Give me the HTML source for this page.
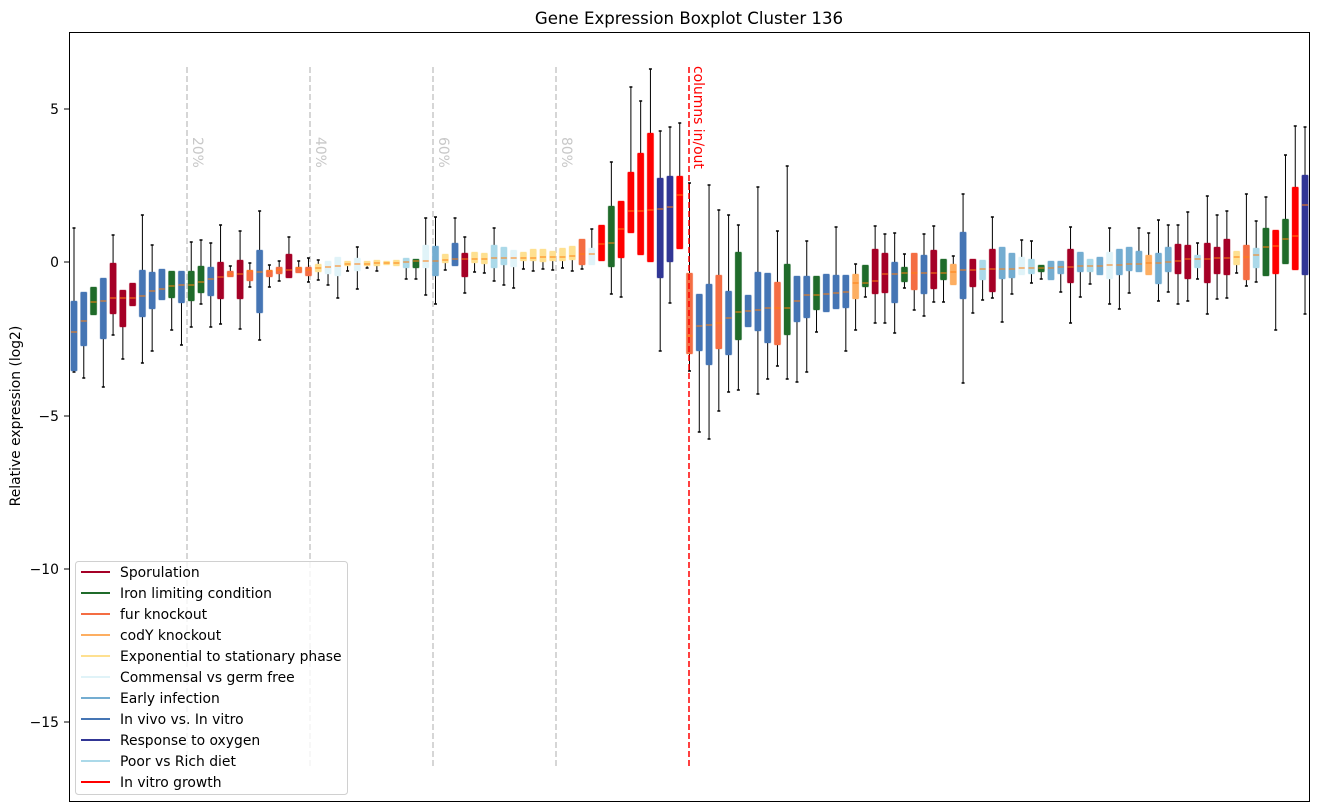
<!DOCTYPE html>
<html><head><meta charset="utf-8"><style>
html,body{margin:0;padding:0;background:#fff;}
svg{display:block;font-family:"DejaVu Sans","Liberation Sans",sans-serif;}
</style></head><body>
<svg id="s" width="1318" height="812" viewBox="0 0 1318 812" xmlns="http://www.w3.org/2000/svg">
<rect x="0" y="0" width="1318" height="812" fill="#fff"/>
<text x="689" y="24" font-size="16.6" text-anchor="middle">Gene Expression Boxplot Cluster 136</text>
<text transform="translate(20,416) rotate(-90)" font-size="13.9" text-anchor="middle">Relative expression (log2)</text>
<g font-size="13.9" text-anchor="end">
<line x1="64" y1="109" x2="69" y2="109" stroke="#000"/><text x="59" y="114">5</text>
<line x1="64" y1="262" x2="69" y2="262" stroke="#000"/><text x="59" y="267">0</text>
<line x1="64" y1="416" x2="69" y2="416" stroke="#000"/><text x="59" y="421">−5</text>
<line x1="64" y1="569" x2="69" y2="569" stroke="#000"/><text x="59" y="574">−10</text>
<line x1="64" y1="722" x2="69" y2="722" stroke="#000"/><text x="59" y="727">−15</text>
</g>
<g stroke="#c8c8c8" stroke-width="1.5" stroke-dasharray="6,3">
<line x1="187" y1="67" x2="187" y2="767"/><line x1="310" y1="67" x2="310" y2="767"/>
<line x1="433" y1="67" x2="433" y2="767"/><line x1="556" y1="67" x2="556" y2="767"/>
</g>
<g fill="#c8c8c8" font-size="13.9">
<text transform="translate(193,137) rotate(90)">20%</text>
<text transform="translate(316,137) rotate(90)">40%</text>
<text transform="translate(439,137) rotate(90)">60%</text>
<text transform="translate(562,137) rotate(90)">80%</text>
</g>
<g id="boxes"></g>
<line x1="689" y1="67" x2="689" y2="767" stroke="#f00" stroke-width="1.5" stroke-dasharray="6,3"/>
<text transform="translate(694,66) rotate(90)" fill="#f00" font-size="13.9">columns in/out</text>
<rect x="69.5" y="32.5" width="1240" height="769" fill="none" stroke="#000" stroke-width="1"/>
<g id="leg"></g>
</svg>
<script>
var C={S:"#a50026",I:"#1f6b2a",F:"#f46d43",C:"#fdae61",E:"#fee090",M:"#e0f3f8",A:"#74add1",V:"#4575b4",O:"#313695",P:"#abd9e9",R:"#ff0000"};
var D=[
"V 228 301 332 371 372","V 292 292 321 346 378","I 287 287 302 315 315","V 278 278 301 339 387","S 235 263 298 314 335",
"S 290 290 298 327 359","S 283 283 298 306 306","V 215 270 296 317 363","V 245 272 291 309 351","V 269 269 289 300 300",
"I 271 271 286 298 330","V 271 271 285 303 345","I 242 271 285 301 327","I 240 266 282 293 304","V 243 267 279 296 327",
"S 225 262 277 299 324","F 266 271 274 277 277","S 231 260 274 299 329","F 263 270 271 281 287","V 211 250 272 313 340",
"F 265 270 271 277 287","F 261 267 270 274 281","S 237 254 270 278 278","F 261 267 268 273 273","F 258 267 270 276 282",
"E 260 264 268 272 280","M 261 261 267 274 285","M 257 257 266 276 298","E 261 261 264 266 271","M 247 258 264 271 289",
"E 261 261 264 266 268","E 260 260 263 266 271","E 261 261 263 265 265","E 260 260 263 266 266","P 258 258 262 268 279",
"I 259 259 261 268 279","M 218 245 261 268 295","A 217 246 261 276 304","E 254 254 260 263 270","V 218 243 259 266 266",
"S 237 253 259 277 293","E 252 252 259 263 272","E 253 253 259 264 273","P 228 245 258 268 281","P 247 247 258 265 285",
"M 250 250 258 267 288","E 252 252 258 261 269","E 249 249 258 261 271","E 249 249 257 262 269","E 251 251 257 261 270",
"E 248 248 257 261 268","E 246 246 256 260 271","F 239 239 254 265 269","M 229 248 254 265 265","R 225 225 244 261 261",
"I 162 206 243 267 294","R 201 201 229 258 297","R 87 172 211 233 233","R 101 153 211 255 255","R 69 133 210 262 262",
"O 131 178 209 278 351","O 127 176 207 262 303","R 123 176 195 249 249","F 183 273 336 354 371","V 294 294 326 351 432",
"V 185 284 325 365 439","F 210 275 323 349 411","V 215 291 318 355 392","I 225 252 312 340 390","V 295 295 311 327 327",
"V 187 272 310 331 394","V 273 273 308 343 379","F 231 282 308 345 366","I 166 264 308 335 379","V 276 276 301 322 382",
"V 241 276 295 318 372","I 276 276 295 310 332","V 274 274 294 312 312","V 227 275 293 309 309","V 275 275 292 308 351",
"C 264 274 283 299 330","I 265 265 283 287 297","S 226 249 281 294 323","S 234 253 274 293 323","V 233 262 274 303 333",
"I 254 267 273 282 288","F 253 253 273 290 310","V 234 255 273 294 316","S 226 250 273 289 302","I 259 259 273 280 302",
"C 256 264 272 285 285","V 194 232 270 299 383","S 259 259 270 287 313","P 260 260 269 280 300","S 217 249 269 292 298",
"A 247 247 269 279 322","A 253 253 269 278 294","M 240 257 268 275 275","P 241 259 268 274 283","I 265 265 268 272 279",
"A 261 261 268 280 280","A 261 261 267 274 292","S 227 249 267 283 323","A 252 252 266 272 297","P 259 259 266 272 284",
"A 257 257 266 275 275","M 228 252 265 279 304","A 249 249 265 275 309","A 247 247 264 271 293","A 228 251 264 272 272",
"C 233 255 263 275 275","A 220 253 263 284 301","A 225 247 262 272 292","S 225 244 261 274 304","S 212 245 259 279 301",
"P 243 255 259 268 279","S 196 243 259 283 314","S 215 247 258 274 299","S 211 239 258 275 298","E 251 251 257 265 273",
"F 194 245 257 280 286","P 221 248 255 268 282","I 197 228 247 276 276","R 230 230 246 274 330","I 155 219 239 264 264",
"R 126 187 236 270 270","O 127 175 205 275 314"];
var g="";
for(var i=0;i<D.length;i++){
 var p=D[i].split(" "),c=C[p[0]],lo=+p[5],q3=+p[2],md=+p[3],q1=+p[4],hi=+p[1];
 var x=74+9.77*i;
 if(hi<q3) g+='<line x1="'+x+'" y1="'+hi+'" x2="'+x+'" y2="'+q3+'" stroke="#000" stroke-width="1"/><line x1="'+(x-1.5)+'" y1="'+hi+'" x2="'+(x+1.5)+'" y2="'+hi+'" stroke="#000" stroke-width="1.5"/>';
 if(lo>q1) g+='<line x1="'+x+'" y1="'+q1+'" x2="'+x+'" y2="'+lo+'" stroke="#000" stroke-width="1"/><line x1="'+(x-1.5)+'" y1="'+lo+'" x2="'+(x+1.5)+'" y2="'+lo+'" stroke="#000" stroke-width="1.5"/>';
 g+='<rect x="'+(x-3.2)+'" y="'+q3+'" width="6.4" height="'+Math.max(q1-q3,2)+'" rx="1" fill="'+c+'" stroke="'+c+'" stroke-opacity="0.35" stroke-width="1"/>';
 g+='<line x1="'+(x-3)+'" y1="'+md+'" x2="'+(x+3)+'" y2="'+md+'" stroke="#ff7f0e" stroke-width="1"/>';
}
document.getElementById("boxes").innerHTML=g;
var L=[["Sporulation","S"],["Iron limiting condition","I"],["fur knockout","F"],["codY knockout","C"],["Exponential to stationary phase","E"],["Commensal vs germ free","M"],["Early infection","A"],["In vivo vs. In vitro","V"],["Response to oxygen","O"],["Poor vs Rich diet","P"],["In vitro growth","R"]];
var h='<rect x="75.5" y="561.5" width="272" height="233" rx="3" fill="#fff" fill-opacity="0.8" stroke="#d0d0d0"/>';
for(var j=0;j<L.length;j++){var y=572+21*j;
h+='<line x1="81" y1="'+y+'" x2="110" y2="'+y+'" stroke="'+C[L[j][1]]+'" stroke-width="2"/><text x="120" y="'+(y+5)+'" font-size="13.9">'+L[j][0]+'</text>';}
document.getElementById("leg").innerHTML=h;
</script>
</body></html>
